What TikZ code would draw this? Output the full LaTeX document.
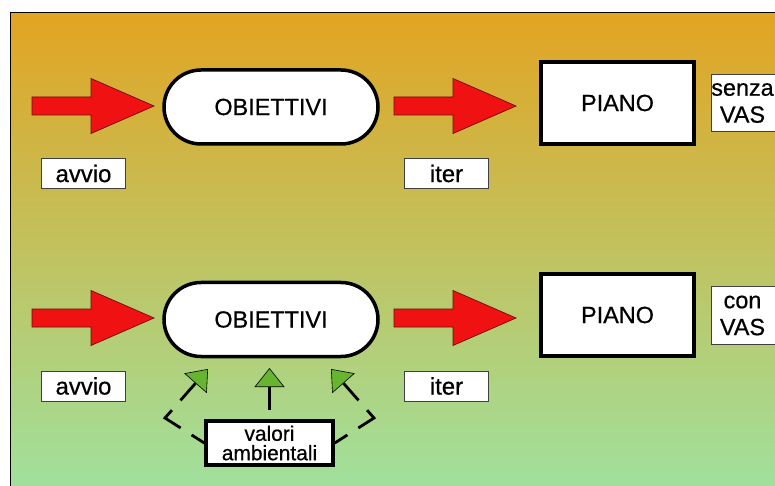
\documentclass[tikz,border=0pt]{standalone}
\usepackage{fontspec}
\setmainfont[FakeBold=0.6]{Liberation Sans}
\usetikzlibrary{arrows.meta,calc,shapes.misc}
\definecolor{bgtop}{RGB}{226,164,34}
\definecolor{bgmid}{RGB}{204,192,82}
\definecolor{bgbot}{RGB}{158,226,160}
\definecolor{arrowred}{RGB}{240,18,18}
\definecolor{arrowredline}{RGB}{110,10,10}
\definecolor{arrowgreen}{RGB}{102,180,48}
\begin{document}
\begin{tikzpicture}[x=1bp,y=-1bp,
  font=\fontsize{23.5}{27}\selectfont,
  stadium/.style={rounded rectangle, draw=black, line width=3.5bp, fill=white,
    minimum width=214bp, minimum height=74bp, inner sep=0},
  planbox/.style={rectangle, draw=black, line width=4bp, fill=white,
    minimum width=153bp, minimum height=82bp, inner sep=0},
  tag/.style={rectangle, draw=black!75, line width=1bp, fill=white,
    minimum width=84bp, minimum height=30bp, inner sep=0,
    font=\fontsize{24}{27}\selectfont},
  sidetag/.style={rectangle, draw=black!75, line width=1bp, fill=white, anchor=west,
    text width=80bp, minimum height=57bp, inner xsep=0, inner ysep=0, align=left,
    font=\fontsize{23.5}{27}\selectfont},
  valbox/.style={rectangle, draw=black, line width=3.5bp, fill=white,
    minimum width=127bp, minimum height=44bp, inner sep=0, align=center,
    font=\fontsize{21}{19.5}\selectfont},
  greentip/.style={-{Triangle[width=30bp,length=19bp,fill=arrowgreen,line width=0.6bp]}},
  greenline/.style={draw=black, line width=2.8bp, greentip},
  greendash/.style={greenline, dash pattern=on 15bp off 13bp on 29bp off 13bp on 40bp},
  redarrow/.pic={\filldraw[fill=arrowred, draw=arrowredline, line width=0.7bp]
    (0,-9) -- (59,-9) -- (59,-27.5) -- (122,0) -- (59,27.5) -- (59,9) -- (0,9) -- cycle;}
]
\useasboundingbox (0,0) rectangle (775,486);
% background
\shade[top color=bgtop, middle color=bgmid, bottom color=bgbot] (10,13) rectangle (790,500);
\draw[black, line width=1bp] (10,500) -- (10,13) -- (790,13);

% row 1 (senza VAS)
\node[stadium] (obj1) at (271,107) {OBIETTIVI};
\node[planbox] (piano1) at (617.5,103) {PIANO};
\node[sidetag] (senza) at (711,103) {\makebox[62bp]{senza}\\\makebox[62bp]{VAS}};
\node[tag] (avvio1) at (83.5,173.5) {avvio};
\node[tag] (iter1) at (446.5,173.5) {iter};
\pic at (32,106) {redarrow};
\pic at (394,106) {redarrow};

% row 2 (con VAS)
\node[stadium] (obj2) at (271,319.5) {OBIETTIVI};
\node[planbox] (piano2) at (617.5,315) {PIANO};
\node[sidetag] (con) at (711,315.5) {\makebox[62bp]{con}\\\makebox[62bp]{VAS}};
\node[tag] (avvio2) at (83.5,386) {avvio};
\node[tag] (iter2) at (446.5,386) {iter};
\pic at (32,318) {redarrow};
\pic at (394,318) {redarrow};

% valori ambientali
\node[valbox] (val) at (269.5,443) {valori\\ambientali};
\coordinate (lcorner) at (165,418);
\coordinate (ltip) at (208,369);
\coordinate (rcorner) at (374,418);
\coordinate (rtip) at (331,369);
\coordinate (ctip) at (269.5,368);
\draw[greendash] (val.west) -- (lcorner) -- (ltip);
\draw[greendash] (val.east) -- (rcorner) -- (rtip);
\draw[greenline, shorten <=9bp] (val.north) -- (ctip);
\end{tikzpicture}
\end{document}
